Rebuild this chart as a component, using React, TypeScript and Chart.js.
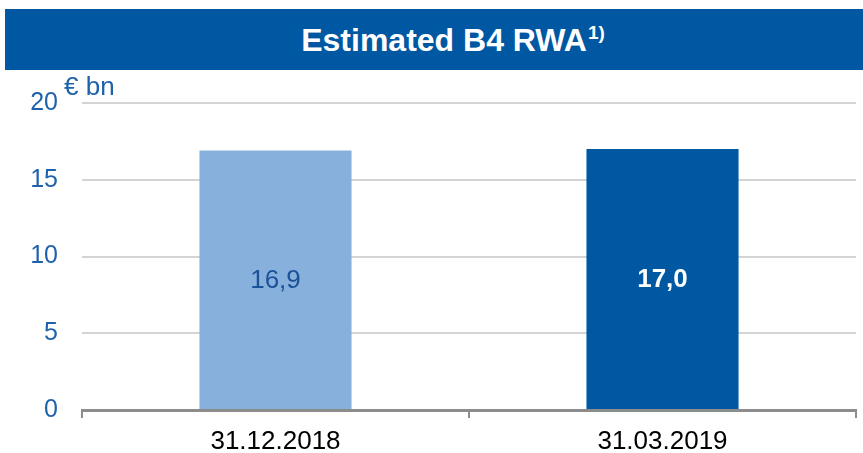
import React, { useEffect, useRef } from "react";
import { Chart, registerables } from "chart.js";

Chart.register(...registerables);

const title = "Estimated B4 RWA";
const titleNote = "1)";
const unitLabel = "€ bn";
const categories = ["31.12.2018", "31.03.2019"];
const values = [16.9, 17.0];
const valueLabels = ["16,9", "17,0"];
const yTicks = [0, 5, 10, 15, 20];

const FONT = "'Liberation Sans', Arial, sans-serif";
const BLUE = "#0057A2";
const LIGHT = "#87B0DC";
const TEXT_BLUE = "#1F62AC";

const overlayPlugin = {
  id: "overlay",
  afterDatasetsDraw(chart: any) {
    const ctx = chart.ctx;
    const meta = chart.getDatasetMeta(0);
    ctx.save();
    ctx.textAlign = "center";
    ctx.textBaseline = "middle";
    meta.data.forEach((bar: any, i: number) => {
      const y = (bar.y + bar.base) / 2;
      if (i === 0) {
        ctx.font = `26px ${FONT}`;
        ctx.fillStyle = "#1A5298";
      } else {
        ctx.font = `bold 26px ${FONT}`;
        ctx.fillStyle = "#FFFFFF";
      }
      ctx.fillText(valueLabels[i], bar.x, y + 1);
    });
    // unit label
    ctx.textAlign = "left";
    ctx.textBaseline = "alphabetic";
    ctx.font = `26px ${FONT}`;
    ctx.fillStyle = TEXT_BLUE;
    ctx.fillText(unitLabel, 64, 95);
    ctx.restore();
  },
};

export default function App() {
  const ref = useRef<HTMLCanvasElement>(null);
  useEffect(() => {
    document.body.style.margin = "0";
    const chart = new Chart(ref.current!, {
      type: "bar",
      data: {
        labels: categories,
        datasets: [
          {
            data: values,
            backgroundColor: [LIGHT, BLUE],
            borderWidth: 0,
            categoryPercentage: 0.393,
            barPercentage: 1,
          },
        ],
      },
      options: {
        animation: false,
        responsive: false,
        maintainAspectRatio: false,
        layout: { padding: { left: 0, right: 7, top: 103, bottom: 0 } },
        plugins: { legend: { display: false }, tooltip: { enabled: false }, title: { display: false } },
        scales: {
          x: {
            offset: true,
            grid: {
              offset: true,
              drawOnChartArea: false,
              drawTicks: true,
              tickLength: 8,
              color: "#8C8C8C",
              lineWidth: 2,
            },
            border: { display: true, color: "#8C8C8C", width: 3 },
            ticks: { color: "#000", font: { family: FONT, size: 26 }, padding: 8, maxRotation: 0, autoSkip: false },
            afterFit(axis: any) {
              axis.height = 43;
              axis.paddingLeft = 0;
              axis.paddingRight = 0;
            },
          },
          y: {
            min: 0,
            max: 20,
            afterBuildTicks(axis: any) {
              axis.ticks = yTicks.map((v) => ({ value: v }));
            },
            grid: { color: "#D4D4D4", lineWidth: 2, drawTicks: false },
            border: { display: false },
            ticks: { color: TEXT_BLUE, font: { family: FONT, size: 25 }, padding: 24 },
            afterFit(axis: any) {
              axis.width = 82;
              axis.paddingTop = 0;
              axis.paddingBottom = 0;
            },
          },
        },
      },
      plugins: [overlayPlugin],
    });
    return () => chart.destroy();
  }, []);

  return (
    <div style={{ position: "relative", width: 863, height: 453, background: "#fff", overflow: "hidden" }}>
      <div
        style={{
          position: "absolute",
          left: 5,
          top: 9,
          width: 858,
          height: 61,
          boxSizing: "border-box",
          paddingLeft: 38,
          background: BLUE,
          color: "#fff",
          fontFamily: FONT,
          fontWeight: "bold",
          fontSize: 32,
          display: "flex",
          alignItems: "center",
          justifyContent: "center",
        }}
      >
        <span style={{ position: "relative", top: 1 }}>
          {title}
          <sup style={{ fontSize: 19, verticalAlign: 12, marginLeft: 1 }}>{titleNote}</sup>
        </span>
      </div>
      <canvas ref={ref} width={863} height={453} style={{ position: "absolute", left: 0, top: 0 }} />
    </div>
  );
}
